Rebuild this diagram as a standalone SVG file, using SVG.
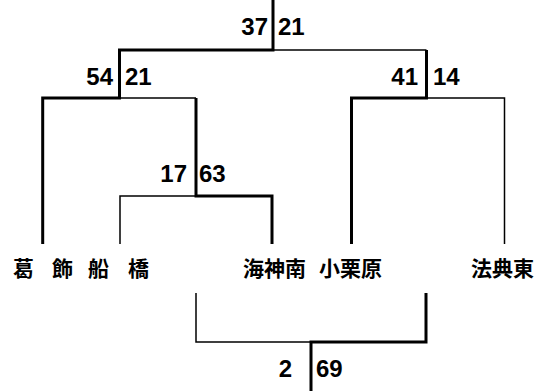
<svg xmlns="http://www.w3.org/2000/svg" width="540" height="391" viewBox="0 0 540 391">
<style>
.thick{fill:none;stroke:#000;stroke-width:3;stroke-linejoin:miter}
.thin{fill:none;stroke:#000;stroke-width:1.5;stroke-linejoin:miter}
.score{font-family:"Liberation Sans",Arial,sans-serif;font-weight:bold;font-size:24px;fill:#000}
.team{font-family:"Noto Sans CJK JP","Noto Sans CJK SC",sans-serif;font-weight:bold;font-size:21px;fill:#000}
</style>
<rect width="540" height="391" fill="#fff"/>
<g id="connectors">
<path class="thin" d="M273,50 H426.5"/>
<path class="thin" d="M119.5,98 H196"/>
<path class="thin" d="M504.5,244 V98 H426.5"/>
<path class="thin" d="M120,244 V196 H196"/>
<path class="thin" d="M196,293 V342 H311"/>
<path class="thick" d="M273,0 V50 H119.5 V98 H42.7 V244"/>
<path class="thick" d="M426.5,50 V98 H351.5 V244"/>
<path class="thick" d="M196,98 V196 H272 V244"/>
<path class="thick" d="M426,293 V342 H311 V391"/>
</g>
<g id="final"><text class="score" x="268" y="35" text-anchor="end">37</text><text class="score" x="278" y="35">21</text></g>
<g id="semi-left"><text class="score" x="113" y="85" text-anchor="end">54</text><text class="score" x="125" y="85">21</text></g>
<g id="semi-right"><text class="score" x="418" y="85" text-anchor="end">41</text><text class="score" x="433" y="85">14</text></g>
<g id="first-round"><text class="score" x="187" y="182" text-anchor="end">17</text><text class="score" x="199" y="182">63</text></g>
<g id="third-place"><text class="score" x="292" y="377" text-anchor="end">2</text><text class="score" x="316" y="377">69</text></g>
<g id="team-katsushika"><text class="team" x="13 34 52 73 88 109 128" y="276">葛 飾 船 橋</text></g>
<g id="team-kaijinminami"><text class="team" x="243" y="276">海神南</text></g>
<g id="team-oguri"><text class="team" x="319" y="276">小栗原</text></g>
<g id="team-hotenhigashi"><text class="team" x="471" y="276">法典東</text></g>
</svg>
